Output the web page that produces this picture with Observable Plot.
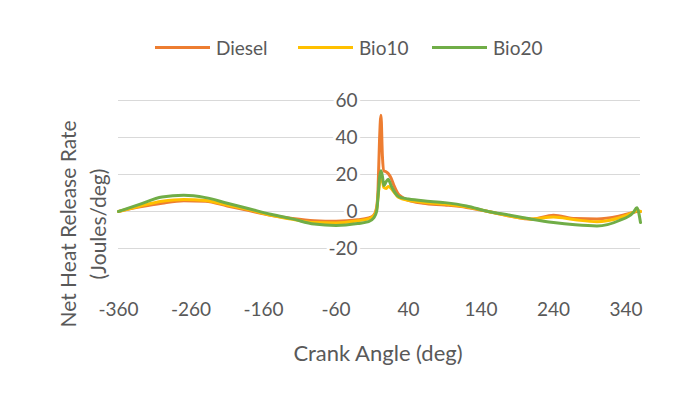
<!DOCTYPE html>
<html>
<head>
<meta charset="utf-8">
<script src="https://cdn.jsdelivr.net/npm/d3@7"></script>
<script src="https://cdn.jsdelivr.net/npm/@observablehq/plot@0.6"></script>
<style>
  html, body { margin: 0; padding: 0; background: #fff; }
  #wrap { position: relative; width: 688px; height: 394px; font-family: Lato, "Open Sans", sans-serif; color: #595959; overflow: hidden; }
  #wrap svg { position: absolute; left: 0; top: 0; }
  .legend { position: absolute; top: 35px; left: 0; width: 688px; height: 24px; }
  .litem { position: absolute; top: 0; display: flex; align-items: center; font-size: 19px; height: 24px; }
  .lline { display: inline-block; width: 55px; height: 3px; margin-right: 6px; }
  .ytitle { position: absolute; font-size: 21px; white-space: nowrap; transform: translate(-50%, -50%) rotate(-90deg); }
  .xtitle { position: absolute; font-size: 22px; white-space: nowrap; transform: translate(-50%, -50%); }
</style>
</head>
<body>
<div id="wrap"></div>
<script>
const angles = [-360,-330,-300,-270,-240,-210,-180,-150,-120,-90,-60,-30,-15,-8,-4,-2,0,2,4,6,9,12,16,20,25,30,40,60,90,120,150,180,210,240,270,300,330,350,355,360];
const diesel = [0,2.5,4.5,5.8,5.5,3,0.5,-2,-3.8,-5,-5.3,-4.5,-3.5,-2,2,12,38,52,30,22,21.5,20.5,18,14,10,8,6,4.5,3.5,2.2,0,-2.5,-4.2,-2,-3.8,-4,-2.5,-0.5,0,0];
const bio10 = [0,3,5.5,6.5,6,3.5,1,-2,-4.2,-6,-6.2,-5,-4,-2.5,1,8,15,19,17,13,12.5,13.5,12.5,10.5,8,7,6,5,4,2.5,0,-2.5,-4,-3,-4.5,-5.5,-3.5,-0.5,0.5,0];
const bio20 = [0,4,7.8,8.8,7.5,4.5,1.5,-1.5,-4,-6.8,-7.5,-6.5,-5.5,-3.5,0,8,18,22,19,14,16,17.5,14,11,8.5,7.5,6.8,5.8,4.8,3,0,-2,-4.2,-6,-7.2,-7.8,-5,-0.5,2,-6];
const seriesNames = ["Diesel","Bio10","Bio20"];
const seriesColors = ["#ED7D31","#FFC000","#70AD47"];
const xTicks = [-360,-260,-160,-60,40,140,240,340];
const yTicks = [-20,0,20,40,60];
const xTitle = "Crank Angle (deg)";
const yTitle1 = "Net Heat Release Rate";
const yTitle2 = "(Joules/deg)";

const seriesValues = [diesel, bio10, bio20];
const rows = [];
seriesNames.forEach((name, i) => {
  angles.forEach((a, j) => rows.push({series: name, angle: a, value: seriesValues[i][j]}));
});

const plot = Plot.plot({
  width: 688,
  height: 394,
  marginLeft: 118,
  marginRight: 48,
  marginTop: 100,
  marginBottom: 146,
  style: {fontFamily: "Lato, 'Open Sans', sans-serif", fontSize: "19px", color: "#595959", background: "transparent"},
  x: {domain: [-360, 360], axis: null},
  y: {domain: [-20, 60], axis: null},
  color: {domain: seriesNames, range: seriesColors},
  marks: [
    Plot.gridY(yTicks, {stroke: "#d9d9d9", strokeOpacity: 1, strokeWidth: 1}),
    Plot.text(yTicks, {x: () => 0, y: d => d, text: d => String(d), textAnchor: "end", dx: -22, fill: "#595959", stroke: "white", strokeWidth: 6, fontSize: 19}),
    Plot.axisX(xTicks, {tickSize: 0, tickPadding: 54, label: null, fontSize: 19, fill: "#595959", tickFormat: d => String(d)}),
    Plot.line(rows, {x: "angle", y: "value", z: "series", stroke: "series", strokeWidth: 3, curve: "monotone-x"})
  ]
});

const wrap = document.getElementById("wrap");
wrap.appendChild(plot);

const legend = document.createElement("div");
legend.className = "legend";
const lx = [155, 298, 432];
seriesNames.forEach((n, i) => {
  const it = document.createElement("div");
  it.className = "litem";
  it.style.left = lx[i] + "px";
  const ln = document.createElement("span");
  ln.className = "lline";
  ln.style.background = seriesColors[i];
  const tx = document.createElement("span");
  tx.textContent = n;
  it.appendChild(ln); it.appendChild(tx);
  legend.appendChild(it);
});
wrap.appendChild(legend);

const t1 = document.createElement("div");
t1.className = "ytitle"; t1.textContent = yTitle1;
t1.style.left = "67px"; t1.style.top = "224px";
wrap.appendChild(t1);
const t2 = document.createElement("div");
t2.className = "ytitle"; t2.textContent = yTitle2;
t2.style.left = "97px"; t2.style.top = "224px";
wrap.appendChild(t2);
const tx = document.createElement("div");
tx.className = "xtitle"; tx.textContent = xTitle;
tx.style.left = "378px"; tx.style.top = "352px";
wrap.appendChild(tx);
</script>
</body>
</html>
